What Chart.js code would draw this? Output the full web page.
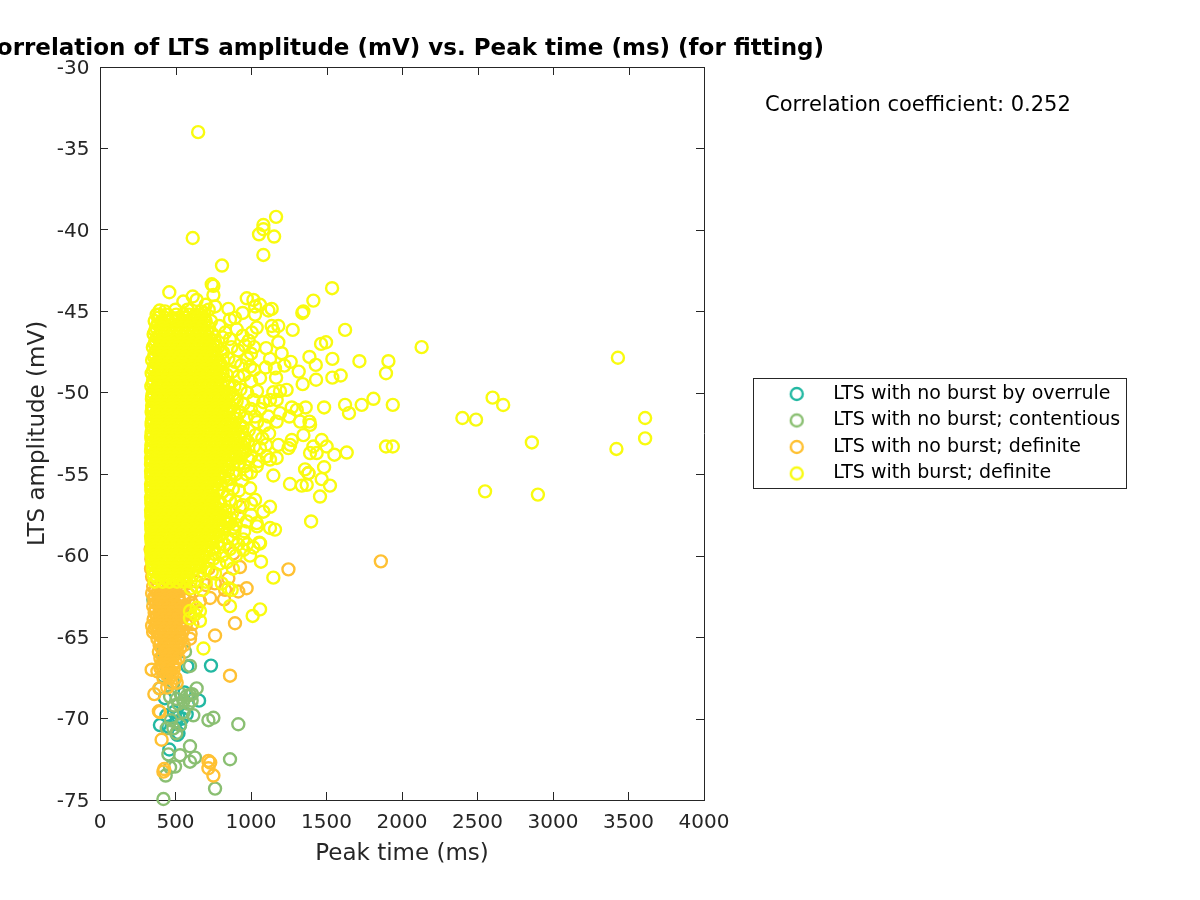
<!DOCTYPE html>
<html><head><meta charset="utf-8">
<style>html,body{margin:0;padding:0;background:#fff}canvas{display:block}</style>
<script src="https://cdn.jsdelivr.net/npm/chart.js@4"></script>
</head><body><canvas id="c" width="1200" height="900"></canvas>
<script>
const titleText = "Correlation of LTS amplitude (mV) vs. Peak time (ms) (for fitting)";
const xLabel = "Peak time (ms)";
const yLabel = "LTS amplitude (mV)";
const corrText = "Correlation coefficient: 0.252";
const seriesNames = ["LTS with no burst by overrule","LTS with no burst; contentious","LTS with no burst; definite","LTS with burst; definite"];
const seriesColors = ["#22b8a2","#8abf72","#ffc133","#f9fb0f"];

const overrule = [[735,-66.75],[578,-66.8],[656,-68.9],[574,-69.74],[519,-69.9],[530,-70.4],[397,-70.4],[453,-70.5],[512,-71],[459,-71.9],[520,-70.9],[430,-68.75],[541,-63.4],[470,-65.5],[500,-64.5],[420,-66.2],[452,-67.2],[490,-69.6],[545,-70],[505,-70.2],[560,-68.4],[440,-69.8]];
const contentious = [[420,-74.94],[762,-74.3],[435,-73.5],[497,-72.95],[464,-73],[861,-72.5],[629,-72.4],[596,-72.65],[530,-72.25],[453,-72.2],[596,-71.7],[916,-70.35],[751,-69.95],[718,-70.1],[618,-69.8],[486,-70.6],[530,-70.4],[442,-70.6],[640,-68.15],[596,-68.55],[607,-68.9],[552,-68.9],[519,-69.1],[464,-68.65],[508,-68.8],[397,-68.15],[596,-66.77],[563,-65.9],[486,-67.8],[420,-67.4],[475,-66],[353,-62.7],[541,-63.4],[530,-63.7],[420,-65.8],[445,-67],[555,-69.6],[575,-68.6],[490,-69.2],[535,-68.5],[470,-70.1],[505,-70.9],[585,-69.1],[610,-68.5]];
const noBurstSparse = [[335,-59.6],[340,-60.2],[338,-60.8],[345,-61.3],[1860,-60.35],[1248,-60.84],[971,-62],[894,-64.15],[762,-64.9],[861,-67.37],[342,-67],[360,-68.5],[397,-69.6],[390,-69.55],[408,-71.3],[420,-73.26],[425,-73.1],[718,-72.6],[730,-72.7],[718,-73.05],[751,-73.5],[508,-67.8],[393,-68.15],[718,-60.8],[883,-59.86],[927,-60.7],[821,-62.68],[729,-62.6],[662,-62.8],[607,-62.9],[574,-63.3],[596,-65.1],[916,-62.2],[828,-62.1],[1380,-54.94],[927,-57],[612,-64.2],[470,-67.8],[445,-68.1],[640,-61.6],[700,-61.8],[760,-61.7],[850,-61.4],[590,-62.4],[570,-64.2],[600,-64.8]];
const noBurstCoreY = [-61.9,-62.1,-62.3,-62.5,-62.7,-62.9,-63.1,-63.3,-63.5,-63.7,-63.9,-64.1,-64.3,-64.5,-64.7,-64.9,-65.1,-65.3,-65.5,-65.7,-65.9,-66.1,-66.3,-66.5,-66.7,-66.9,-67.1,-67.3,-67.5];
const noBurstCoreX = [
[352,388,425,465,505,545],[368,405,445,485,525],[345,380,418,458,498],[362,400,440,480,520,560],
[360,398,438,480,520,560],[372,412,452,495,535],[352,390,428,470,510,550],[368,408,448,490,530],
[362,400,440,480,520],[378,418,458,498,538],[355,392,432,472,512],[372,412,452,492,532],
[345,370,410,450,490,530],[360,392,432,472,512,552],[352,385,425,465,505,545],[402,442,482,522],
[380,420,460,500,540],[400,440,480,520],[395,435,475,515,555],[410,450,490,530],
[390,430,470,510],[415,455,495],[400,440,480,520],[420,460,500],
[405,445,485],[400,445,490],[380,425,470],[440,480],[420,460,500]];

const burstSparse = [[650,-34],[614,-40.5],[1166,-39.2],[1082,-39.7],[1082,-39.96],[1053,-40.27],[1153,-40.41],[1082,-41.54],[808,-42.19],[740,-43.34],[751,-43.44],[751,-44],[459,-43.83],[1537,-43.58],[1413,-44.34],[614,-44.09],[972,-44.2],[1016,-44.3],[1060,-44.6],[1027,-44.7],[1027,-45.2],[850,-44.85],[762,-44.7],[552,-44.4],[640,-44.3],[1137,-44.85],[1115,-44.95],[1347,-45],[1340,-45.1],[945,-45.1],[894,-45.4],[861,-45.5],[1038,-46],[1137,-45.9],[1181,-45.9],[1148,-46.2],[1276,-46.14],[1623,-46.14],[1464,-47],[1497,-46.9],[1181,-46.9],[1100,-47.26],[1203,-47.57],[1387,-47.8],[1539,-47.92],[1718,-48.06],[1910,-48.06],[1894,-48.8],[1429,-48.29],[1263,-48.1],[1221,-48.33],[1126,-47.92],[1097,-48.45],[1159,-48.5],[994,-48.4],[1316,-48.7],[1431,-49.2],[1539,-49.07],[1594,-48.94],[1166,-49.07],[1342,-49.47],[1236,-49.82],[1192,-49.9],[1148,-49.97],[1126,-50.44],[1170,-50.44],[1016,-50.44],[1082,-50.58],[1811,-50.37],[1623,-50.74],[1733,-50.74],[1939,-50.74],[1484,-50.9],[1649,-51.25],[1362,-50.9],[1270,-50.9],[1303,-51.05],[1325,-51.77],[1254,-51.46],[1192,-51.25],[1115,-51.46],[1170,-51.77],[1387,-51.77],[1391,-51.97],[1347,-52.6],[1027,-51.46],[1248,-53.4],[1259,-53.2],[1270,-52.9],[1468,-52.9],[1501,-53.3],[1413,-53.3],[1391,-53.7],[1435,-53.7],[1552,-53.8],[1634,-53.67],[1894,-53.3],[1939,-53.3],[1181,-53.2],[1104,-53.9],[1170,-54],[1126,-54.1],[1038,-54.5],[1148,-55.08],[1484,-54.57],[1358,-54.7],[1380,-54.94],[1468,-55.3],[1523,-55.7],[1369,-55.65],[1336,-55.7],[1258,-55.6],[1457,-56.37],[1398,-57.9],[994,-55.86],[1027,-56.57],[972,-57.9],[1038,-58],[1126,-57],[1082,-57.3],[1126,-58.3],[1159,-58.4],[1055,-59.2],[883,-58.3],[949,-59],
[2130,-47.2],[2400,-51.55],[2490,-51.65],[2600,-50.3],[2670,-50.75],[2860,-53.05],[2550,-56.05],[2900,-56.25],[3430,-47.85],[3610,-51.55],[3610,-52.8],[3420,-53.45],
[1066,-60.37],[1148,-61.35],[861,-63.1],[1060,-63.3],[1011,-63.7],[685,-65.7],[596,-63.4],[662,-63.4],[629,-63.6],[662,-64],[596,-63.85],[640,-63.2],[850,-62],[806,-61.7],[872,-62.1],[762,-61.1],[950,-59.65],[1016,-59.5],[1060,-59.25],[994,-60],
[830,-46.3],[860,-46.7],[905,-46.1],[945,-46.5],[985,-46.8],[1005,-46.3],[870,-47.2],[915,-47.4],[960,-47.1],[1000,-47.6],[1020,-47.2],[850,-47.9],[895,-48.1],[935,-48.3],[975,-47.9],[1020,-48.6],[875,-48.7],[915,-49],[955,-48.9],[1000,-49.3],[1060,-49.1],[890,-49.6],[930,-49.8],[975,-50],[1040,-49.9],[905,-50.5],[950,-50.7],[1000,-51],[1060,-51],[925,-51.2],[970,-51.5],[1040,-51.8],[1090,-52],[945,-52.1],[985,-52.3],[1030,-52.6],[1075,-52.8],[1120,-52.5],[980,-53],[1020,-53.3],[1060,-53.4],[1100,-53.2],[1000,-53.9],[1050,-54.2],[960,-54.5],[1000,-54.9],[860,-55.3],[900,-55],[940,-55.4],[880,-55.9],[920,-56],[860,-56.6],[900,-56.7],[945,-56.9],[1000,-56.8],[830,-57.2],[875,-57.4],[915,-57.6],[1000,-57.5],[860,-58],[900,-58.1],[955,-58.5],[1040,-58.2],[880,-59],[915,-59.3],[975,-59.3],[860,-59.6],[900,-60],[840,-60.4],[880,-60.8],[750,-60.2],[790,-60.5],[700,-60.8],[740,-61],[660,-61.2],[700,-61.6],[640,-61.9],[680,-62.1],[600,-62],
[735,-45.6],[790,-45.9],[810,-46.6],[770,-47.1],[815,-47.5],[800,-48.3],[840,-48.9],[855,-49.4],[825,-50],[880,-50.1],[870,-50.9],[905,-51.6],[895,-52.2],[925,-52.7],[955,-53.1],[945,-53.7],[985,-54.1],[925,-54.3],[970,-55],[880,-54.9],[850,-55.7],[810,-56.1],[845,-56.3],[795,-56.7],[835,-57.7],[865,-57.7],[890,-58.5],[815,-58.4],[845,-58.9],[825,-59.3],[790,-59.5],[760,-59.9],[810,-60],[720,-60.3],[660,-60.6],[690,-45.1],[720,-44.9],[580,-44.9],[500,-44.9],[430,-45],[395,-44.95],[700,-44.6],[670,-45]];

const burstCoreY = [-45.2,-45.4,-45.6,-45.8,-46.0,-46.2,-46.4,-46.6,-46.8,-47.0,-47.2,-47.4,-47.6,-47.8,-48.0,-48.2,-48.4,-48.6,-48.8,-49.0,-49.2,-49.4,-49.6,-49.8,-50.0,-50.2,-50.4,-50.6,-50.8,-51.0,-51.2,-51.4,-51.6,-51.8,-52.0,-52.2,-52.4,-52.6,-52.8,-53.0,-53.2,-53.4,-53.6,-53.8,-54.0,-54.2,-54.4,-54.6,-54.8,-55.0,-55.2,-55.4,-55.6,-55.8,-56.0,-56.2,-56.4,-56.6,-56.8,-57.0,-57.2,-57.4,-57.6,-57.8,-58.0,-58.2,-58.4,-58.6,-58.8,-59.0,-59.2,-59.4,-59.6,-59.8,-60.0,-60.2,-60.4,-60.6,-60.8,-61.0,-61.2,-61.4,-61.6];
const burstCoreX = [
[375,392,440,505,552,590,633,668],
[385,432,478,520,568,610,648,690],
[362,410,456,498,540,585,622,664,700],
[382,430,478,520,565,605,645,690],
[372,418,462,505,548,590,632,676,722],
[365,408,452,495,538,580,622,665,710],
[355,396,440,482,526,568,612,655,698,745],
[378,420,462,505,548,590,632,675,720],
[368,412,455,498,540,584,626,668,712,760],
[362,405,448,490,532,575,618,660,702,750],
[350,392,436,478,520,564,606,650,692,735,782],
[374,416,458,500,543,586,628,670,715,758],
[362,405,448,490,532,576,618,660,704,748],
[358,400,442,484,528,570,612,655,698,740],
[345,388,430,472,514,558,600,644,686,730,775,815],
[370,412,454,496,540,582,624,668,708,752,795],
[358,402,444,486,528,572,614,656,700,742,788],
[352,394,436,478,522,564,606,648,692,735,775],
[342,384,426,470,512,555,598,640,682,726,768,812],
[364,406,448,490,534,576,618,662,704,746,790],
[352,396,438,480,522,566,608,650,694,736,780,825],
[348,390,432,474,516,560,602,644,686,730,772,815],
[340,380,422,466,508,550,592,636,678,722,764,806,850],
[360,402,444,486,530,572,614,658,700,742,786],
[350,392,434,476,518,562,604,646,690,732,776,818,860],
[345,386,428,470,512,556,598,640,682,726,768,810],
[344,378,420,462,504,548,590,632,676,718,760,804,846,890],
[358,400,442,484,526,570,612,654,698,740,782,826],
[345,388,430,472,514,558,600,642,686,728,772,814,858],
[345,384,426,468,510,552,596,638,680,722,766,808,850],
[342,376,418,460,502,545,588,630,672,716,758,802,844,888,925],
[355,398,440,482,524,566,610,652,694,738,780,822],
[346,386,428,470,512,556,598,640,684,726,770,812,856,898],
[342,382,424,466,508,550,594,636,678,720,764,806,848],
[342,374,416,458,500,542,586,628,670,714,756,800,842,886,930],
[352,395,438,480,522,564,608,650,692,736,778,820,865],
[342,384,426,468,510,554,596,638,682,724,768,810,854,896,940],
[340,380,422,464,506,548,592,634,676,718,762,804,846,890],
[340,372,414,456,498,540,584,626,668,712,754,798,840,884,926,960],
[350,392,436,478,520,562,606,648,690,734,776,818,862,905],
[340,382,424,466,508,552,594,636,680,722,766,808,852,894,936],
[340,378,420,462,504,546,590,632,674,716,760,802,844,888],
[338,370,412,454,496,538,582,624,666,710,752,796,838,882,924,962],
[348,390,434,476,518,560,604,646,688,732,774,816,860,900],
[338,380,422,464,506,550,592,634,678,720,764,806,850,892,930],
[340,376,418,460,502,544,588,630,672,714,758,800,842],
[338,368,410,452,494,536,580,622,664,708,750,794,836,880,915],
[346,388,432,474,516,558,602,644,686,730,772,814],
[338,378,420,462,504,548,590,632,676,718,762,804,848],
[340,374,416,458,500,542,586,628,670,712,756,798],
[340,366,408,450,492,534,578,620,662,706,748,792,825],
[344,386,430,472,514,556,600,642,684,728,770],
[338,376,418,460,502,546,588,630,674,716,760,800],
[340,372,414,456,498,540,584,626,668,710,752],
[340,365,406,448,490,532,576,618,660,704,746,785],
[346,384,428,470,512,554,598,640,682,726],
[338,374,416,458,500,544,586,628,672,714,755],
[340,370,412,454,496,538,582,624,666,708,750],
[340,364,404,446,488,530,574,616,658,702,745,790],
[344,382,426,468,510,552,596,638,680,724,768],
[338,372,414,456,498,542,584,626,670,712,756,800],
[340,368,410,452,494,536,580,622,664,706,748,790],
[340,362,402,444,486,528,572,614,656,700,742,786,830],
[346,380,424,466,508,550,594,636,678,722,764],
[338,370,412,454,496,540,582,624,668,710,754,796,840],
[340,366,408,450,492,534,578,620,662,704,746,790],
[340,360,400,442,484,526,570,612,654,698,740,784,825],
[344,378,422,464,506,548,592,634,676,720,760],
[338,368,410,452,494,538,580,622,666,708,750,792],
[340,364,406,448,490,532,576,618,660,702,744],
[342,360,398,440,482,524,568,610,652,696,738,780],
[346,376,420,462,504,546,590,632,674,718],
[340,366,408,450,492,536,578,620,664,706,745],
[340,362,404,446,488,530,574,616,658,700],
[342,362,396,438,480,522,566,608,650,694],
[350,385,418,460,502,544,588,630,670],
[345,372,406,448,490,534,576,618,660],
[358,394,432,474,516,558,600,640],
[350,384,420,462,504,546,590,632],
[366,408,450,494,536,580],
[355,398,440,484,526,570,612],
[380,430,474,520,570],
[362,415,460,510,555,600]];

const xTickStep = 500, yTickStep = 5;
const xRange = [0,4000], yRange = [-75,-30];

const toPts = a => a.map(p => ({x:p[0], y:p[1]}));
const expand = (ys,xs) => ys.flatMap((y,i) => xs[i].map(x => [x,y]));
const seriesData = [overrule, contentious, noBurstSparse.concat(expand(noBurstCoreY,noBurstCoreX)), burstSparse.concat(expand(burstCoreY,burstCoreX))];
const ink = "#262626";

function ring(color){
  const c = document.createElement("canvas"); c.width = 18; c.height = 18;
  const g = c.getContext("2d"); g.strokeStyle = color; g.lineWidth = 2.4;
  g.beginPath(); g.arc(9,9,6,0,Math.PI*2); g.stroke();
  return c;
}

const frame = {
  id:"frame",
  beforeDraw(chart){
    const l = chart.legend; l.left = 762.25; l.right = 1127; l.top = 377; l.bottom = 900;
    const t = chart.titleBlock; t.left = -21; t.right = 825;
    chart.scales.y.getLabelItems(chart.chartArea).forEach(it => { it.textOffset += 1.5; });
  },
  afterDraw(chart){
    const {ctx, chartArea:a, scales:{x,y}} = chart;
    ctx.save();
    ctx.strokeStyle = ink; ctx.lineWidth = 1;
    ctx.beginPath();
    ctx.moveTo(a.left,a.top+.5); ctx.lineTo(a.right+.5,a.top+.5); ctx.moveTo(a.right+.5,a.top); ctx.lineTo(a.right+.5,a.bottom);
    x.ticks.forEach(t => { const p = Math.round(x.getPixelForValue(t.value))+.5; ctx.moveTo(p,a.top); ctx.lineTo(p,a.top+8); });
    y.ticks.forEach(t => { const p = Math.round(y.getPixelForValue(t.value))+.5; ctx.moveTo(a.right,p); ctx.lineTo(a.right-8,p); });
    ctx.stroke();
    ctx.strokeRect(753.5,378.5,373,110);
    ctx.fillStyle = "#000"; ctx.font = '21px "DejaVu Sans"'; ctx.textBaseline = "middle";
    ctx.fillText(corrText,765,105.5);
    ctx.restore();
  }
};

new Chart(document.getElementById("c"),{
  type:"scatter",
  data:{datasets:seriesNames.map((n,i)=>({
    label:n, data:toPts(seriesData[i]), order:4-i,
    borderColor:seriesColors[i], backgroundColor:"transparent",
    pointRadius:6, pointBorderWidth:2.4, pointHoverRadius:6, clip:false
  }))},
  options:{
    responsive:false, devicePixelRatio:1, animation:false, events:[],
    layout:{padding:{left:0,right:496,top:0,bottom:0},autoPadding:false},
    plugins:{
      tooltip:{enabled:false},
      title:{display:true,text:titleText,color:"#000",font:{family:"DejaVu Sans",size:23,weight:"bold"},padding:{top:35,bottom:4.4}},
      legend:{display:true,position:"chartArea",align:"start",labels:{
        color:"#000",font:{family:"DejaVu Sans",size:19},padding:7.5,usePointStyle:true,pointStyleWidth:54,
        sort:(a,b)=>a.datasetIndex-b.datasetIndex,
        generateLabels(chart){
          return Chart.defaults.plugins.legend.labels.generateLabels(chart).map(it=>{
            it.pointStyle = ring(seriesColors[it.datasetIndex]); return it;
          });
        }
      }}
    },
    scales:{
      x:{type:"linear",min:xRange[0],max:xRange[1],
        afterFit:s=>{s.height=100;},
        ticks:{stepSize:xTickStep,autoSkip:false,maxRotation:0,color:ink,font:{family:"DejaVu Sans",size:20},padding:19,callback:v=>String(v)},
        grid:{drawOnChartArea:false,tickLength:-8,tickColor:ink,color:ink},
        border:{color:ink,width:1},
        title:{display:true,text:xLabel,color:ink,font:{family:"DejaVu Sans",size:23},padding:{top:0,bottom:32.5}}},
      y:{type:"linear",min:yRange[0],max:yRange[1],
        afterFit:s=>{s.width=100;},
        ticks:{stepSize:yTickStep,autoSkip:false,color:ink,font:{family:"DejaVu Sans",size:20},padding:18.5,callback:v=>String(v)},
        grid:{drawOnChartArea:false,tickLength:-8,tickColor:ink,color:ink},
        border:{color:ink,width:1},
        title:{display:true,text:yLabel,color:ink,font:{family:"DejaVu Sans",size:23},padding:{top:24,bottom:0}}}
    }
  },
  plugins:[frame]
});
</script></body></html>
